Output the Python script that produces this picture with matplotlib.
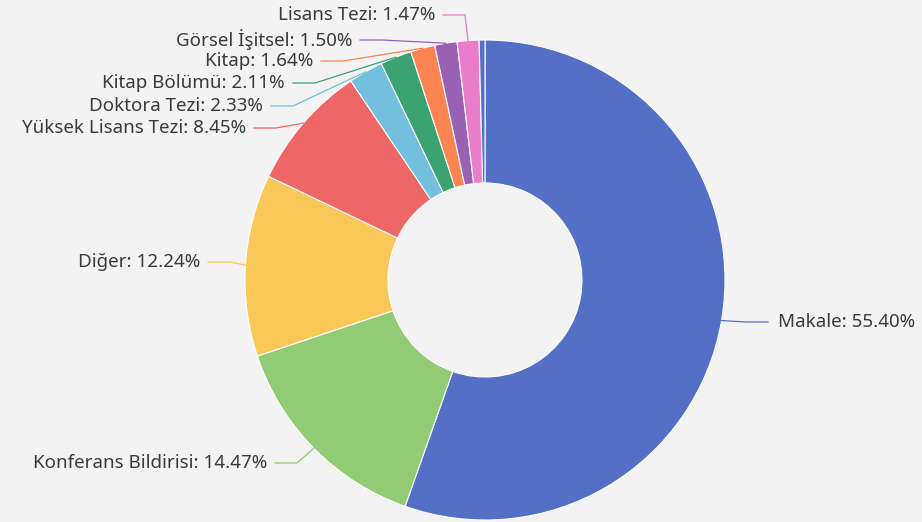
import matplotlib.pyplot as plt
import numpy as np

""" Data """

names = ['Makale', 'Konferans Bildirisi', 'Diğer', 'Yüksek Lisans Tezi',
         'Doktora Tezi', 'Kitap Bölümü', 'Kitap', 'Görsel İşitsel',
         'Lisans Tezi', '']
values = [55.40, 14.47, 12.24, 8.45, 2.33, 2.11, 1.64, 1.50, 1.47, 0.39]
colors = ['#5470c6', '#91cc75', '#fac858', '#ee6666', '#73c0de',
          '#3ba272', '#fc8452', '#9a60b4', '#ea7ccc', '#5470c6']

# label anchor (pixel x of text end, pixel y) and side
label_pos = [(778, 322, 'left'), (267, 463, 'right'), (200, 262, 'right'),
             (246, 128, 'right'), (263, 106, 'right'), (285, 83, 'right'),
             (313, 61, 'right'), (352, 40, 'right'), (435, 15, 'right'),
             None]

""" Plot """

W, H = 922, 522
fig = plt.figure(figsize=(W / 100, H / 100), dpi=100)
fig.patch.set_facecolor('#f3f3f3')
ax = fig.add_axes([0, 0, 1, 1])
ax.set_xlim(0, W)
ax.set_ylim(0, H)
ax.set_aspect('equal')
ax.axis('off')

cx, cy = 485, H - 280
R = 240
wedges, _ = ax.pie(values, colors=colors, startangle=90, counterclock=False,
                   center=(cx, cy), radius=R,
                   wedgeprops=dict(width=R - 97, edgecolor='white', linewidth=0.8))
ax.set_xlim(0, W)
ax.set_ylim(0, H)

for w, name, val, pos, col in zip(wedges, names, values, label_pos, colors):
    if pos is None:
        continue
    ang = np.deg2rad((w.theta1 + w.theta2) / 2)
    ax_pt = (cx + R * np.cos(ang), cy + R * np.sin(ang))
    tx, ty, side = pos
    ty = H - ty
    if side == 'right':
        c = (tx + 8, ty)
        b = (tx + 30, ty)
        ha = 'right'
    else:
        c = (tx - 10, ty)
        b = (tx - 32, ty)
        ha = 'left'
    ax.plot([ax_pt[0], b[0], c[0]], [ax_pt[1], b[1], c[1]], color=col, lw=0.9)
    ax.text(tx, ty, '%s: %.2f%%' % (name, val), ha=ha, va='center',
            fontsize=13.5, color='#3a3a3a', family=['Noto Sans', 'DejaVu Sans'])

plt.savefig('out.png', dpi=100, facecolor=fig.get_facecolor())
